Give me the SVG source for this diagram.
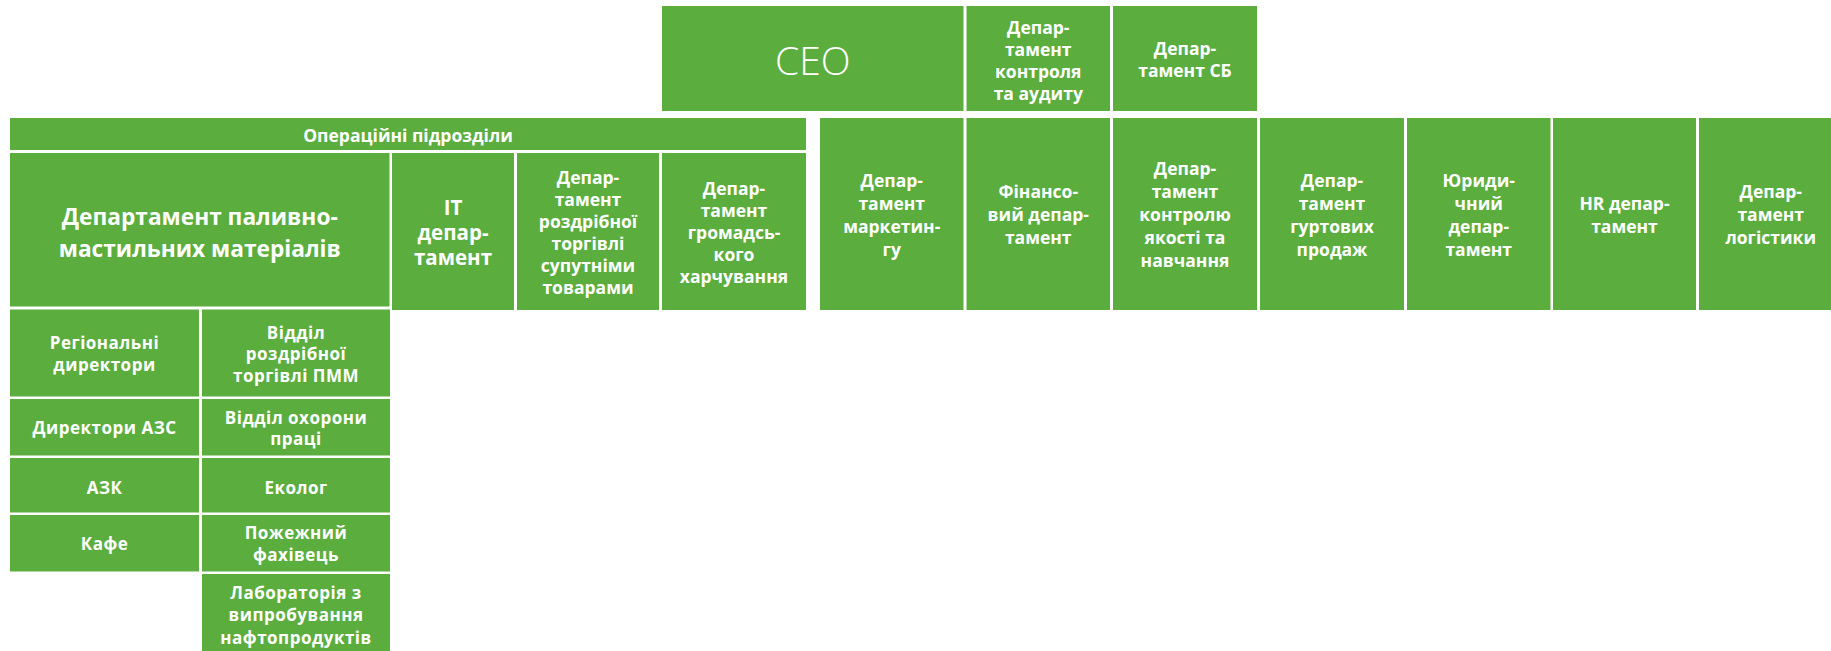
<svg xmlns="http://www.w3.org/2000/svg" width="1831" height="651" viewBox="0 0 1831 651">
  <style>
    .box { fill: #5BAE3E; }
    .t { fill: #ffffff; font-family: "Open Sans", "Liberation Sans", sans-serif; font-weight: 700; text-anchor: middle; }
    .s17 { font-size: 17.5px; }
    .s16 { font-size: 17px; letter-spacing: 0.5px; }
    .ceo { fill: #ffffff; font-family: "Open Sans", "Liberation Sans", sans-serif; font-weight: 300; font-size: 39px; text-anchor: middle; }
  </style>
  <rect x="0" y="0" width="1831" height="651" fill="#ffffff"/>

  <!-- top row -->
  <g id="ceo">
    <rect class="box" x="662" y="6" width="301.5" height="105"/>
    <text class="ceo" x="812.75" y="74.5">CEO</text>
  </g>
  <g id="audit">
    <rect class="box" x="966.5" y="6" width="143.5" height="105"/>
    <text class="t s17" x="1038.25"><tspan x="1038.25" y="33.6">Депар-</tspan><tspan x="1038.25" y="55.6">тамент</tspan><tspan x="1038.25" y="77.6">контроля</tspan><tspan x="1038.25" y="99.6">та аудиту</tspan></text>
  </g>
  <g id="security">
    <rect class="box" x="1113" y="6" width="144" height="105"/>
    <text class="t s17" x="1185"><tspan x="1185" y="55">Депар-</tspan><tspan x="1185" y="77">тамент СБ</tspan></text>
  </g>

  <!-- operational units -->
  <g id="operations">
    <rect class="box" x="10" y="118" width="796" height="32"/>
    <text class="t" style="font-size:17.5px" x="408" y="141.5">Операційні підрозділи</text>
  </g>
  <g id="fuel">
    <rect class="box" x="10" y="153" width="379.5" height="153.5"/>
    <text class="t" style="font-size:22.7px" x="199.75"><tspan x="199.75" y="224.5">Департамент паливно-</tspan><tspan x="199.75" y="256.5">мастильних матеріалів</tspan></text>
  </g>
  <g id="it">
    <rect class="box" x="392" y="153" width="122" height="157"/>
    <text class="t" style="font-size:20.5px" x="453"><tspan x="453" y="214.5">IT</tspan><tspan x="453" y="239.5">депар-</tspan><tspan x="453" y="264.5">тамент</tspan></text>
  </g>
  <g id="retail">
    <rect class="box" x="517" y="153" width="142" height="157"/>
    <text class="t s17" x="588"><tspan x="588" y="184">Депар-</tspan><tspan x="588" y="206">тамент</tspan><tspan x="588" y="228">роздрібної</tspan><tspan x="588" y="250">торгівлі</tspan><tspan x="588" y="272">супутніми</tspan><tspan x="588" y="294">товарами</tspan></text>
  </g>
  <g id="catering">
    <rect class="box" x="662" y="153" width="144" height="157"/>
    <text class="t s17" x="734"><tspan x="734" y="195">Депар-</tspan><tspan x="734" y="217">тамент</tspan><tspan x="734" y="239">громадсь-</tspan><tspan x="734" y="261">кого</tspan><tspan x="734" y="283">харчування</tspan></text>
  </g>

  <!-- fuel department sub-units -->
  <g id="regional">
    <rect class="box" x="10" y="309.5" width="189" height="87"/>
    <text class="t s16" x="104.5"><tspan x="104.5" y="348.6">Регіональні</tspan><tspan x="104.5" y="371">директори</tspan></text>
  </g>
  <g id="station-directors">
    <rect class="box" x="10" y="399" width="189" height="56.5"/>
    <text class="t s16" x="104.5" y="433.5">Директори АЗС</text>
  </g>
  <g id="azk">
    <rect class="box" x="10" y="458" width="189" height="54.5"/>
    <text class="t s16" x="104.5" y="494">АЗК</text>
  </g>
  <g id="cafe">
    <rect class="box" x="10" y="515" width="189" height="56.5"/>
    <text class="t s16" x="104.5" y="550.3">Кафе</text>
  </g>
  <g id="retail-fuel">
    <rect class="box" x="202" y="309.5" width="188" height="87"/>
    <text class="t s16" x="296"><tspan x="296" y="338.6">Відділ</tspan><tspan x="296" y="360.3">роздрібної</tspan><tspan x="296" y="382">торгівлі ПММ</tspan></text>
  </g>
  <g id="labour-safety">
    <rect class="box" x="202" y="399" width="188" height="56.5"/>
    <text class="t s16" x="296"><tspan x="296" y="423.6">Відділ охорони</tspan><tspan x="296" y="445.3">праці</tspan></text>
  </g>
  <g id="ecologist">
    <rect class="box" x="202" y="458" width="188" height="54.5"/>
    <text class="t s16" x="296" y="493.6">Еколог</text>
  </g>
  <g id="fire">
    <rect class="box" x="202" y="515" width="188" height="56.5"/>
    <text class="t s16" x="296"><tspan x="296" y="538.6">Пожежний</tspan><tspan x="296" y="561">фахівець</tspan></text>
  </g>
  <g id="lab">
    <rect class="box" x="202" y="574" width="188" height="80"/>
    <text class="t s16" x="296"><tspan x="296" y="599.3">Лабораторія з</tspan><tspan x="296" y="621.3">випробування</tspan><tspan x="296" y="643.6">нафтопродуктів</tspan></text>
  </g>

  <!-- functional departments -->
  <g id="marketing">
    <rect class="box" x="820" y="118" width="143.5" height="192"/>
    <text class="t s17" x="891.75"><tspan x="891.75" y="186.6">Депар-</tspan><tspan x="891.75" y="209.6">тамент</tspan><tspan x="891.75" y="232.6">маркетин-</tspan><tspan x="891.75" y="255.6">гу</tspan></text>
  </g>
  <g id="finance">
    <rect class="box" x="966.5" y="118" width="143.5" height="192"/>
    <text class="t s17" x="1038.25"><tspan x="1038.25" y="198">Фінансо-</tspan><tspan x="1038.25" y="221">вий депар-</tspan><tspan x="1038.25" y="244">тамент</tspan></text>
  </g>
  <g id="quality">
    <rect class="box" x="1113" y="118" width="144" height="192"/>
    <text class="t s17" x="1185"><tspan x="1185" y="175">Депар-</tspan><tspan x="1185" y="198">тамент</tspan><tspan x="1185" y="221">контролю</tspan><tspan x="1185" y="244">якості та</tspan><tspan x="1185" y="267">навчання</tspan></text>
  </g>
  <g id="wholesale">
    <rect class="box" x="1260" y="118" width="144" height="192"/>
    <text class="t s17" x="1332"><tspan x="1332" y="186.6">Депар-</tspan><tspan x="1332" y="209.6">тамент</tspan><tspan x="1332" y="232.6">гуртових</tspan><tspan x="1332" y="255.6">продаж</tspan></text>
  </g>
  <g id="legal">
    <rect class="box" x="1407" y="118" width="143.5" height="192"/>
    <text class="t s17" x="1478.75"><tspan x="1478.75" y="186.6">Юриди-</tspan><tspan x="1478.75" y="209.6">чний</tspan><tspan x="1478.75" y="232.6">депар-</tspan><tspan x="1478.75" y="255.6">тамент</tspan></text>
  </g>
  <g id="hr">
    <rect class="box" x="1553" y="118" width="143" height="192"/>
    <text class="t s17" x="1624.5"><tspan x="1624.5" y="209.6">HR депар-</tspan><tspan x="1624.5" y="232.6">тамент</tspan></text>
  </g>
  <g id="logistics">
    <rect class="box" x="1699" y="118" width="143.5" height="192"/>
    <text class="t s17" x="1770.75"><tspan x="1770.75" y="198">Депар-</tspan><tspan x="1770.75" y="221">тамент</tspan><tspan x="1770.75" y="244">логістики</tspan></text>
  </g>

  <!-- no connectors are drawn: the chart is built from adjoining blocks -->
  <g id="connectors"/>
</svg>
